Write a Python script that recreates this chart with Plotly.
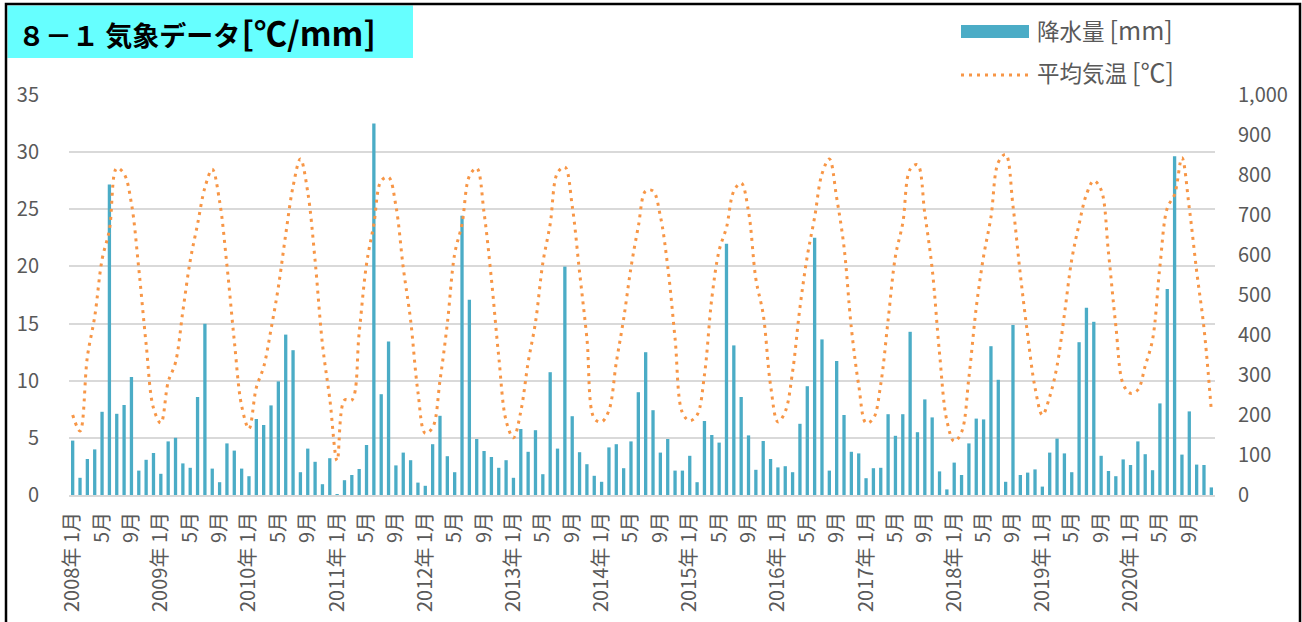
import plotly.graph_objects as go

years = list(range(2008, 2021))
months = list(range(1, 13))

# Precipitation [mm] per month (right axis)
precip_2008 = [136, 43, 90, 114, 208, 776, 203, 225, 295, 61, 88, 105]
precip_2009 = [53, 134, 143, 79, 68, 245, 428, 66, 32, 129, 111, 66]
precip_2010 = [47, 190, 175, 224, 284, 401, 362, 57, 116, 83, 27, 92]
precip_2011 = [2, 37, 50, 65, 125, 929, 252, 384, 74, 106, 87, 31]
precip_2012 = [23, 127, 198, 97, 57, 698, 488, 140, 110, 95, 68, 87]
precip_2013 = [43, 165, 108, 162, 52, 307, 116, 571, 197, 107, 77, 48]
precip_2014 = [33, 119, 127, 67, 134, 257, 357, 212, 106, 140, 61, 61]
precip_2015 = [98, 32, 185, 150, 131, 628, 374, 245, 149, 63, 135, 90]
precip_2016 = [69, 72, 57, 178, 272, 643, 389, 61, 335, 200, 108, 104]
precip_2017 = [42, 67, 68, 202, 148, 202, 408, 157, 239, 194, 59, 14]
precip_2018 = [81, 50, 129, 191, 189, 372, 288, 33, 425, 50, 56, 64]
precip_2019 = [21, 106, 141, 104, 57, 382, 468, 433, 98, 60, 47, 89]
precip_2020 = [75, 134, 102, 62, 229, 515, 847, 101, 209, 76, 75, 19]

# Mean temperature [degC] per month (left axis)
temp_2008 = [7.0, 5.6, 12.1, 15.6, 20.6, 23.2, 28.6, 28.1, 25.5, 19.8, 13.2, 7.6]
temp_2009 = [6.3, 9.9, 11.6, 16.1, 20.5, 23.7, 26.9, 28.5, 25.7, 20.1, 13.5, 7.8]
temp_2010 = [5.8, 9.4, 11.2, 14.5, 18.2, 22.8, 27.0, 29.4, 26.5, 20.5, 13.2, 8.4]
temp_2011 = [3.0, 8.3, 8.3, 14.2, 20.2, 23.7, 27.5, 27.8, 25.3, 19.9, 15.3, 9.0]
temp_2012 = [5.4, 5.9, 10.0, 15.0, 21.1, 23.7, 27.9, 28.6, 24.7, 18.9, 12.1, 6.5]
temp_2013 = [5.0, 7.3, 11.6, 15.1, 20.3, 23.7, 28.2, 28.7, 25.3, 19.5, 13.7, 6.7]
temp_2014 = [6.4, 7.4, 11.6, 15.4, 19.9, 23.5, 26.6, 26.6, 24.4, 20.0, 13.7, 7.2]
temp_2015 = [6.5, 7.0, 10.5, 17.2, 21.4, 23.4, 26.6, 27.3, 24.8, 18.9, 15.8, 9.6]
temp_2016 = [6.4, 7.3, 10.8, 16.4, 20.9, 24.3, 28.1, 29.4, 26.0, 21.7, 14.6, 9.6]
temp_2017 = [6.3, 6.7, 9.7, 15.3, 20.9, 23.8, 28.5, 28.9, 24.6, 19.8, 12.4, 6.5]
temp_2018 = [4.7, 5.5, 10.3, 16.4, 20.9, 24.3, 29.1, 29.8, 25.3, 19.3, 14.0, 9.4]
temp_2019 = [7.0, 8.6, 11.3, 15.8, 20.6, 23.7, 26.3, 27.5, 26.7, 21.2, 14.8, 9.7]
temp_2020 = [8.9, 9.2, 11.3, 13.6, 20.0, 25.1, 26.3, 29.5, 25.1, 19.6, 14.6, 7.4]

precip = (precip_2008 + precip_2009 + precip_2010 + precip_2011 + precip_2012 +
          precip_2013 + precip_2014 + precip_2015 + precip_2016 + precip_2017 +
          precip_2018 + precip_2019 + precip_2020)
temp = (temp_2008 + temp_2009 + temp_2010 + temp_2011 + temp_2012 +
        temp_2013 + temp_2014 + temp_2015 + temp_2016 + temp_2017 +
        temp_2018 + temp_2019 + temp_2020)

categories = [f"{y}-{m:02d}" for y in years for m in months]
tick_months = [1, 5, 9]
tickvals = [f"{y}-{m:02d}" for y in years for m in tick_months]
ticktext = [(f"{y}年 {m}月" if m == 1 else f"{m}月") for y in years for m in tick_months]

title_main = "８－１ 気象データ"
title_unit = "[℃/mm]"
legend_bar_name = "降水量"
legend_bar_unit = "[mm]"
legend_line_name = "平均気温"
legend_line_unit = "[℃]"

BAR_COLOR = "#4BACC6"
LINE_COLOR = "#F79646"
GRAY = "#595959"
FONT = "Noto Sans CJK JP"

W, H = 1302, 622
L, R, T, B = 69, 87, 95, 127
PW, PH = W - L - R, H - T - B


def px(x):
    return (x - L) / PW


def py(y):
    return (H - B - y) / PH


fig = go.Figure()
# bars on the main y axis (shown on the right), line on the overlaying left axis
fig.add_trace(go.Bar(x=categories, y=precip, xaxis="x", yaxis="y",
                     marker=dict(color=BAR_COLOR, line=dict(width=0)),
                     name=legend_bar_name, showlegend=False))
fig.add_trace(go.Scatter(x=categories, y=temp, xaxis="x", yaxis="y2", mode="lines",
                         line=dict(color=LINE_COLOR, width=3, dash="3px,5px", shape="spline", smoothing=1),
                         name=legend_line_name, showlegend=False))

fig.update_layout(
    width=W, height=H,
    margin=dict(l=L, r=R, t=T, b=B, pad=0, autoexpand=False),
    paper_bgcolor="white", plot_bgcolor="white",
    font=dict(family=FONT, color=GRAY),
    bargap=0.55,
    xaxis=dict(type="category", categoryorder="array", categoryarray=categories,
               tickmode="array", tickvals=tickvals, ticktext=ticktext, tickangle=-90,
               tickfont=dict(size=20, color=GRAY, family=FONT), ticks="", showgrid=False,
               showline=True, linecolor="#D9D9D9", linewidth=2, ticklabelstandoff=7,
               automargin=False, range=[-0.5, len(categories) - 0.5]),
    yaxis=dict(range=[0, 1000], dtick=100, tick0=0, side="right", showgrid=False,
               zeroline=False, showline=False, ticks="", tickformat=",d", automargin=False,
               tickfont=dict(size=20, color=GRAY, family=FONT), ticklabelstandoff=22),
    yaxis2=dict(range=[0, 35], dtick=5, tick0=0, overlaying="y", side="left",
                showgrid=True, gridcolor="#D9D9D9", gridwidth=2, automargin=False,
                zeroline=False, showline=False, ticks="", tickfont=dict(size=20, color=GRAY, family=FONT),
                ticklabelstandoff=29),
)

shapes = []
# outer frame
shapes.append(dict(type="rect", xref="paper", yref="paper", x0=px(6), x1=px(1300), y0=py(640), y1=py(4),
                   line=dict(color="black", width=2.5), fillcolor="rgba(0,0,0,0)", layer="above"))
# title box
shapes.append(dict(type="rect", xref="paper", yref="paper", x0=px(7.5), x1=px(413), y0=py(58), y1=py(5.5),
                   line=dict(width=0), fillcolor="#66FFFF", layer="below"))
# legend swatches
shapes.append(dict(type="rect", xref="paper", yref="paper", x0=px(961), x1=px(1029), y0=py(38), y1=py(25),
                   line=dict(width=0), fillcolor=BAR_COLOR))
shapes.append(dict(type="line", xref="paper", yref="paper", x0=px(961), x1=px(1029), y0=py(75), y1=py(75),
                   line=dict(color=LINE_COLOR, width=3, dash="3px,5px")))
fig.update_layout(shapes=shapes)

annotations = [
    dict(text=f"<b>{title_main}<span style='font-size:6px'> </span><span style='font-size:33px'>{title_unit}</span></b>",
         xref="paper", yref="paper", x=px(16), y=py(31.5), xanchor="left",
         yanchor="middle", showarrow=False, font=dict(size=27, color="black", family=FONT)),
    dict(text=f"{legend_bar_name} <span style='font-size:25px'>{legend_bar_unit}</span>",
         xref="paper", yref="paper", x=px(1035), y=py(29), xanchor="left",
         yanchor="middle", showarrow=False, font=dict(size=22.5, color=GRAY, family=FONT)),
    dict(text=f"{legend_line_name} <span style='font-size:25px'>{legend_line_unit}</span>",
         xref="paper", yref="paper", x=px(1035), y=py(71.5), xanchor="left",
         yanchor="middle", showarrow=False, font=dict(size=22.5, color=GRAY, family=FONT)),
]
fig.update_layout(annotations=annotations)

fig.write_html("out.html", config={"displayModeBar": False},
               post_script="document.body.style.margin='0px';")
